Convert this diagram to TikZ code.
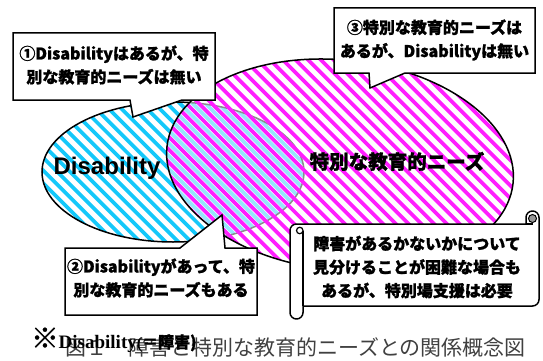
\documentclass[tikz,border=0pt]{standalone}
\usepackage{fontspec}
\usepackage{graphicx}
\setmainfont{Liberation Serif}
\newfontfamily\jp{Noto Sans CJK JP}[BoldFeatures={FakeBold=1.2}]
\newfontfamily\jpcap{Noto Sans CJK JP}
\newfontfamily\arialf{Liberation Sans}
\definecolor{cyanS}{RGB}{20,200,250}
\definecolor{magS}{RGB}{255,30,255}
\tikzset{
  callout/.style={fill=white,draw=black,line width=1.5pt,line join=miter},
  boxtext/.style={font=\jp\bfseries\fontsize{16}{23.5}\selectfont,align=center,inner sep=0pt},
  stripe/.style={line width=3.7pt},
}
\begin{document}
\begin{tikzpicture}[x=1pt,y=1pt]
\useasboundingbox (0,0) rectangle (543,-361);
% Disability ellipse
\fill[white] (173,-172) ellipse [x radius=131, y radius=70];
\begin{scope}
  \clip (173,-172) ellipse [x radius=131, y radius=70];
  \foreach \i in {0,...,80} {
    \draw[stripe,cyanS] ({-20+\i*12.73},-400) -- ({-520+\i*12.73},100);
  }
\end{scope}
\draw[line width=1.5pt] (173,-172) ellipse [x radius=131, y radius=70];
% special needs ellipse
\begin{scope}[rotate around={-6:(340,-165)}]
  \fill[white,fill opacity=0.55] (340,-165) ellipse [x radius=174, y radius=105];
\end{scope}
\begin{scope}
  \clip[rotate around={-6:(340,-165)}] (340,-165) ellipse [x radius=174, y radius=105];
  \foreach \i in {0,...,80} {
    \draw[stripe,magS] ({-13.6+\i*12.73},-400) -- ({-513.6+\i*12.73},100);
  }
\end{scope}
\draw[line width=1.5pt,rotate around={-6:(340,-165)}] (340,-165) ellipse [x radius=174, y radius=105];
% big labels
\node[anchor=base,inner sep=0pt,font=\arialf\bfseries\fontsize{24}{24}\selectfont] (dis) at (107,-174) {Disability};
\node[anchor=base,inner sep=0pt,font=\jp\bfseries\fontsize{19.5}{19.5}\selectfont] (sen) at (397,-169) {特別な教育的ニーズ};
% callout 1
\path[callout] (13,-33) -- (215,-33) -- (215,-100) -- (182,-100) -- (133,-117) -- (130,-100) -- (13,-100) -- cycle;
\node[boxtext] (c1) at (114,-65) {①Disabilityはあるが、特\\別な教育的ニーズは無い};
% callout 3
\path[callout] (334,-8) -- (535,-8) -- (535,-73) -- (405,-73) -- (370,-88) -- (369,-73) -- (334,-73) -- cycle;
\node[boxtext] (c3) at (434.5,-40) {③特別な教育的ニーズは\\あるが、Disabilityは無い};
% callout 2
\path[callout] (65,-248) -- (180,-248) -- (222,-215) -- (225,-248) -- (257,-248) -- (257,-315) -- (65,-315) -- cycle;
\node[boxtext] (c2) at (161,-278) {②Disabilityがあって、特\\別な教育的ニーズもある};
% scroll
\path[callout,line join=round] (296.5,-224) -- (526,-224) -- (526,-217.5)
  arc[start angle=180,end angle=0,radius=6.5] -- (539,-299.5)
  arc[start angle=0,end angle=-90,radius=6.5] -- (303,-306) -- (303,-312.5)
  arc[start angle=0,end angle=-180,radius=6.5] -- (290,-230.5)
  arc[start angle=180,end angle=90,radius=6.5] -- cycle;
\draw[line width=1.5pt] (303,-230.5) -- (303,-306);
\draw[line width=1.2pt,fill=white] (299.75,-230.5) circle [radius=3.25];
\draw[line width=1pt,fill=black!40] (532.5,-218.5) circle [radius=4];
\draw[line width=1.2pt] (526,-224) -- (532.5,-224) -- (532.5,-222.5);
\node[boxtext] (sc) at (417,-267) {障害があるかないかについて\\見分けることが困難な場合も\\あるが、特別場支援は必要};
% bottom texts
\node[anchor=base west,inner sep=0pt,text=black!75,font=\jpcap\fontsize{21}{21}\selectfont] (cap) at (65,-355) {図１　障害と特別な教育的ニーズとの関係概念図};
\node[anchor=base west,inner sep=0pt,font=\bfseries\fontsize{19}{19}\selectfont] (note) at (31,-348) {{\jp\fontsize{22}{22}\selectfont\scalebox{1.25}{※}}Disability{\fontsize{16}{16}\selectfont(\jp ＝障害)}};
\end{tikzpicture}
\end{document}
